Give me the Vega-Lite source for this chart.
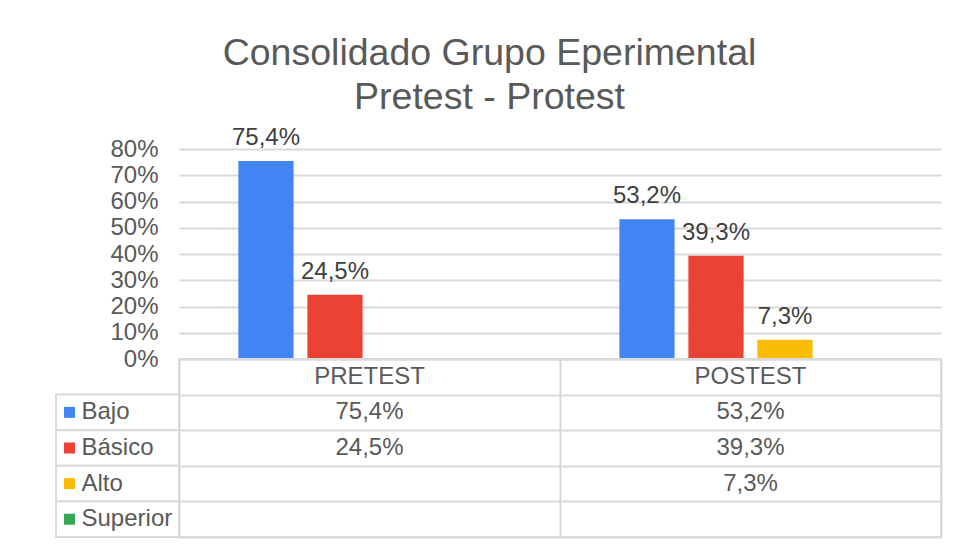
{
  "$schema": "https://vega.github.io/schema/vega-lite/v6.json",
  "padding": {"left": 55, "top": 34, "right": 16, "bottom": 9},
  "background": "white",
  "title": {
    "text": ["Consolidado Grupo Eperimental", "Pretest - Protest"],
    "font": "Liberation Sans",
    "fontSize": 37.5,
    "fontWeight": "normal",
    "color": "#595959",
    "lineHeight": 44,
    "anchor": "middle",
    "dx": -9,
    "offset": 10
  },
  "datasets": {
    "d": [
      {"fase": "PRETEST", "nivel": "Bajo", "v": 0.754},
      {"fase": "PRETEST", "nivel": "Básico", "v": 0.245},
      {"fase": "POSTEST", "nivel": "Bajo", "v": 0.532},
      {"fase": "POSTEST", "nivel": "Básico", "v": 0.393},
      {"fase": "POSTEST", "nivel": "Alto", "v": 0.073}
    ],
    "niveles": [
      {"nivel": "Bajo"},
      {"nivel": "Básico"},
      {"nivel": "Alto"},
      {"nivel": "Superior"}
    ]
  },
  "columns": 2,
  "spacing": 0,
  "bounds": "flush",
  "concat": [
    {
      "width": 123,
      "height": 210,
      "data": {"values": [{}]},
      "mark": {"type": "text", "text": ""},
      "encoding": {}
    },
    {
      "width": 762,
      "height": 210,
      "data": {"name": "d"},
      "encoding": {
        "x": {"field": "fase", "type": "nominal", "scale": {"domain": ["PRETEST", "POSTEST"], "paddingInner": 0, "paddingOuter": 0}, "axis": null},
        "xOffset": {"field": "nivel", "type": "nominal", "scale": {"domain": ["Bajo", "Básico", "Alto", "Superior"], "paddingInner": 0.2, "paddingOuter": 0.86}},
        "y": {
          "field": "v", "type": "quantitative",
          "scale": {"domain": [0, 0.8], "nice": false},
          "axis": {
            "format": ".0%", "values": [0, 0.1, 0.2, 0.3, 0.4, 0.5, 0.6, 0.7, 0.8],
            "title": null, "grid": true, "gridColor": "#d9d9d9", "gridWidth": 2,
            "domain": false, "ticks": false, "labelFontSize": 24, "labelColor": "#595959",
            "labelFont": "Liberation Sans", "labelPadding": 21
          }
        }
      },
      "layer": [
        {
          "mark": {"type": "bar"},
          "encoding": {
            "color": {"field": "nivel", "type": "nominal", "scale": {"domain": ["Bajo", "Básico", "Alto", "Superior"], "range": ["#4285F4", "#EA4335", "#FBBC04", "#34A853"]}, "legend": null}
          }
        },
        {
          "mark": {"type": "text", "baseline": "alphabetic", "dy": -16, "fontSize": 24, "font": "Liberation Sans", "color": "#404040"},
          "encoding": {"text": {"field": "v", "type": "quantitative", "format": ".1%"}}
        }
      ]
    },
    {
      "width": 123,
      "height": 178,
      "data": {"name": "niveles"},
      "encoding": {
        "y": {"field": "nivel", "type": "nominal", "scale": {"domain": ["_h", "Bajo", "Básico", "Alto", "Superior"], "paddingInner": 0, "paddingOuter": 0}, "axis": null}
      },
      "layer": [
        {"mark": {"type": "rect", "fill": "white", "stroke": "#d9d9d9", "strokeWidth": 2}},
        {
          "mark": {"type": "point", "shape": "square", "filled": true, "size": 121, "opacity": 1, "xOffset": -48},
          "encoding": {
            "color": {"field": "nivel", "type": "nominal", "scale": {"domain": ["Bajo", "Básico", "Alto", "Superior"], "range": ["#4285F4", "#EA4335", "#FBBC04", "#34A853"]}, "legend": null}
          }
        },
        {
          "mark": {"type": "text", "align": "left", "dx": -36, "fontSize": 24, "font": "Liberation Sans", "color": "#595959"},
          "encoding": {"text": {"field": "nivel", "type": "nominal"}}
        }
      ]
    },
    {
      "width": 762,
      "height": 178,
      "data": {"name": "d"},
      "view": {"stroke": "#d9d9d9", "strokeWidth": 2},
      "encoding": {
        "x": {"field": "fase", "type": "nominal", "scale": {"domain": ["PRETEST", "POSTEST"], "paddingInner": 0, "paddingOuter": 0},
          "axis": {"grid": true, "tickBand": "extent", "labels": false, "ticks": false, "domain": false, "title": null, "gridColor": "#d9d9d9", "gridWidth": 2}},
        "y": {"field": "nivel", "type": "nominal", "scale": {"domain": ["_h", "Bajo", "Básico", "Alto", "Superior"], "paddingInner": 0, "paddingOuter": 0},
          "axis": {"grid": true, "tickBand": "extent", "labels": false, "ticks": false, "domain": false, "title": null, "gridColor": "#d9d9d9", "gridWidth": 2}}
      },
      "layer": [
        {
          "mark": {"type": "text", "fontSize": 24, "font": "Liberation Sans", "color": "#595959"},
          "encoding": {"text": {"field": "v", "type": "quantitative", "format": ".1%"}}
        },
        {
          "transform": [{"aggregate": [{"op": "count", "as": "n"}], "groupby": ["fase"]}],
          "mark": {"type": "text", "fontSize": 24, "font": "Liberation Sans", "color": "#595959"},
          "encoding": {"y": {"datum": "_h", "type": "nominal"}, "text": {"field": "fase", "type": "nominal"}}
        }
      ]
    }
  ],
  "config": {
    "font": "Liberation Sans",
    "view": {"stroke": null},
    "locale": {"number": {"decimal": ",", "thousands": ".", "grouping": [3], "currency": ["", "€"]}}
  }
}
